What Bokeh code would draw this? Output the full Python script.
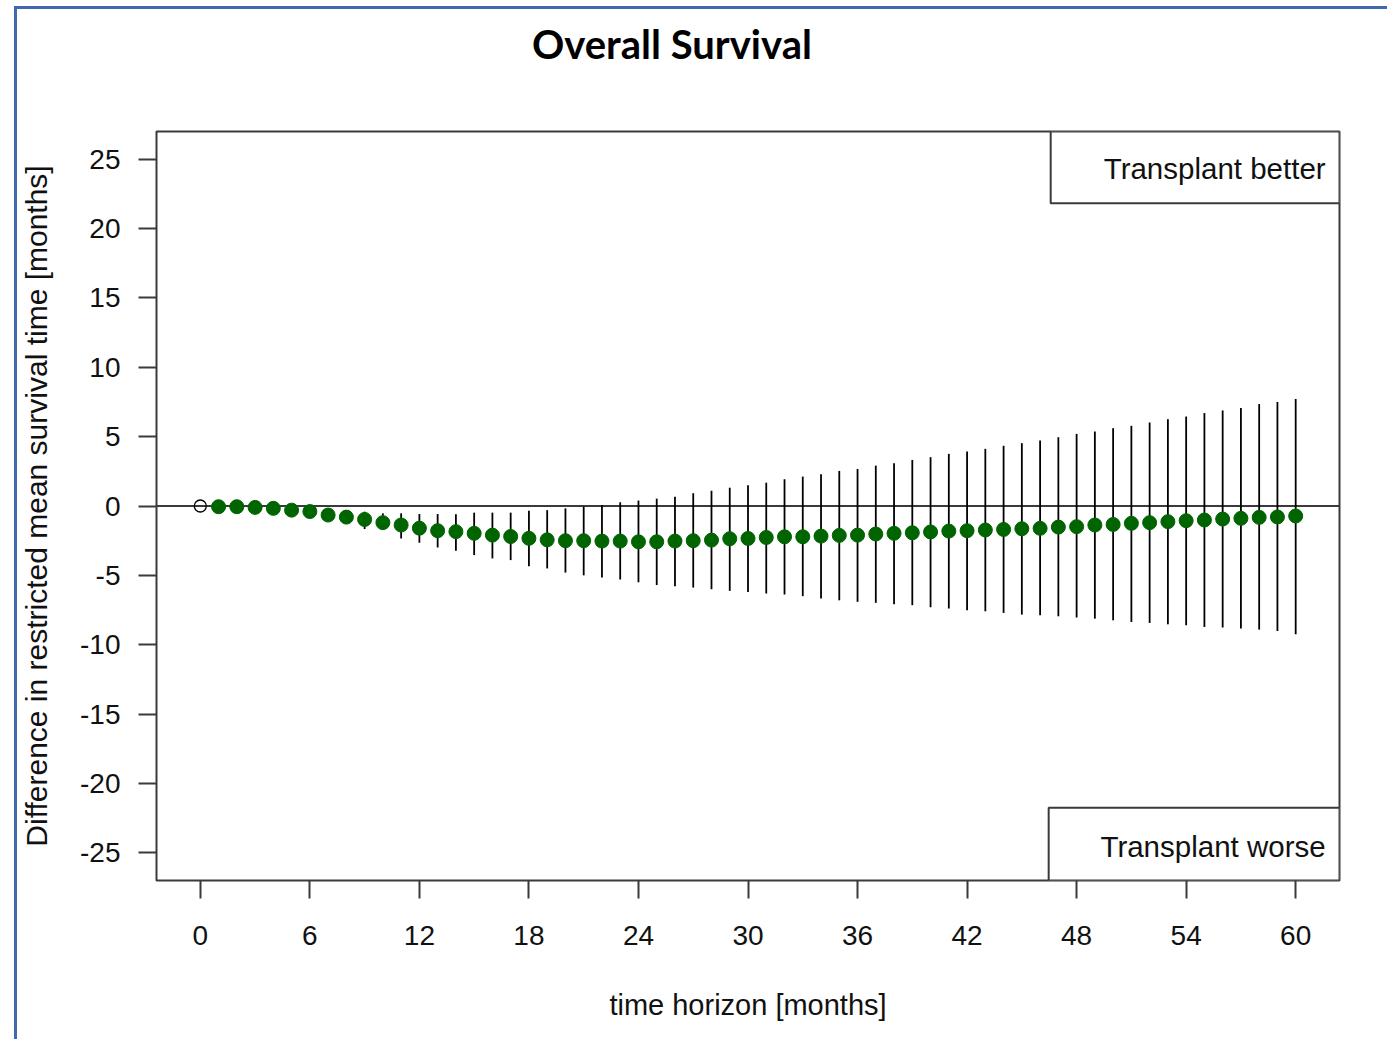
from bokeh.plotting import figure
from bokeh.models import FixedTicker, Range1d, ColumnDataSource, Div
from bokeh.layouts import column
from bokeh.core.properties import value
from bokeh.embed import file_html
from bokeh.resources import INLINE

# ---- data ----
months = list(range(0, 61))
estimate = [0.0, -0.05, -0.05, -0.1, -0.17, -0.3, -0.4, -0.65, -0.8, -0.97,
            -1.2, -1.37, -1.6, -1.78, -1.85, -1.97, -2.1, -2.2, -2.33, -2.44,
            -2.5, -2.5, -2.53, -2.53, -2.58, -2.58, -2.53, -2.5, -2.46, -2.36,
            -2.34, -2.27, -2.22, -2.22, -2.17, -2.12, -2.1, -2.02, -1.97, -1.93,
            -1.87, -1.81, -1.78, -1.73, -1.69, -1.64, -1.61, -1.52, -1.49, -1.37,
            -1.33, -1.25, -1.2, -1.13, -1.06, -1.01, -0.94, -0.89, -0.82, -0.79,
            -0.72]
upper = [0.0, 0.05, 0.1, 0.1, 0.08, 0.0, -0.05, -0.24, -0.29, -0.41,
         -0.53, -0.53, -0.58, -0.58, -0.6, -0.48, -0.48, -0.48, -0.34, -0.3,
         -0.17, -0.05, 0.07, 0.27, 0.39, 0.53, 0.67, 0.92, 1.1, 1.32,
         1.49, 1.68, 1.93, 2.12, 2.29, 2.53, 2.67, 2.91, 3.08, 3.32,
         3.52, 3.76, 3.93, 4.12, 4.34, 4.53, 4.72, 4.96, 5.2, 5.37,
         5.61, 5.78, 6.02, 6.26, 6.45, 6.7, 6.89, 7.06, 7.35, 7.49,
         7.71]
lower = [0.0, -0.15, -0.2, -0.3, -0.42, -0.6, -0.75, -1.13, -1.3, -1.66,
         -1.73, -2.34, -2.65, -2.99, -3.23, -3.54, -3.78, -3.9, -4.34, -4.5,
         -4.8, -5.0, -5.15, -5.3, -5.5, -5.7, -5.78, -5.88, -6.0, -6.12,
         -6.2, -6.31, -6.38, -6.5, -6.67, -6.8, -6.91, -6.98, -7.08, -7.15,
         -7.3, -7.39, -7.51, -7.59, -7.71, -7.83, -7.88, -7.95, -8.04, -8.12,
         -8.24, -8.36, -8.43, -8.53, -8.6, -8.72, -8.76, -8.84, -8.91, -9.01,
         -9.25]
x_ticks = [0, 6, 12, 18, 24, 30, 36, 42, 48, 54, 60]
y_ticks = [-25, -20, -15, -10, -5, 0, 5, 10, 15, 20, 25]
title_text = "Overall Survival"
x_label = "time horizon [months]"
y_label = "Difference in restricted mean survival time [months]"
legend_top = "Transplant better"
legend_bottom = "Transplant worse"

FONT = "Liberation Sans"
TXT = "#111111"

x0, x1 = -2.4, 62.4
y0, y1 = -27.0, 27.0

TITLE_H = 60

title_div = Div(
    text=('<div style="position:absolute; left:515px; top:11px; white-space:nowrap; '
          'font-family:Lato; font-weight:bold; font-size:40px; line-height:48px; '
          'color:black;">' + title_text + '</div>'),
    width=1370, height=TITLE_H, margin=0)

p = figure(width=1370, height=1030 - TITLE_H, output_backend="svg",
           toolbar_location=None,
           x_range=Range1d(x0, x1), y_range=Range1d(y0, y1),
           min_border_left=139, min_border_top=122 - TITLE_H, min_border_right=48,
           min_border_bottom=159, margin=0)
p.background_fill_color = "white"
p.border_fill_color = "white"
p.outline_line_color = "#3a3a3a"
p.outline_line_width = 2
p.xgrid.visible = False
p.ygrid.visible = False

for ax in (p.xaxis[0], p.yaxis[0]):
    ax.axis_line_color = None
    ax.major_tick_out = 18
    ax.major_tick_in = 0
    ax.minor_tick_line_color = None
    ax.major_tick_line_color = "#3a3a3a"
    ax.major_tick_line_width = 2
    ax.major_label_text_font = FONT
    ax.major_label_text_font_size = "28px"
    ax.major_label_text_color = TXT
    ax.axis_label_text_font = FONT
    ax.axis_label_text_font_style = "normal"
    ax.axis_label_text_color = TXT

p.xaxis.axis_label_text_font_size = "29px"
p.yaxis.axis_label_text_font_size = "30px"
p.xaxis.ticker = FixedTicker(ticks=x_ticks)
p.yaxis.ticker = FixedTicker(ticks=y_ticks)
p.xaxis.major_label_overrides = {t: str(t) for t in x_ticks}
p.yaxis.major_label_overrides = {t: str(t) for t in y_ticks}
p.xaxis.major_label_standoff = 27
p.yaxis.major_label_standoff = 18
p.xaxis.axis_label = x_label
p.yaxis.axis_label = y_label
p.xaxis.axis_label_standoff = 41
p.yaxis.axis_label_standoff = 24

# zero line
p.line(x=[x0, x1], y=[0, 0], line_color="#3a3a3a", line_width=2)

src = ColumnDataSource(dict(m=months[1:], est=estimate[1:], lo=lower[1:], hi=upper[1:]))
p.segment(x0="m", y0="lo", x1="m", y1="hi", source=src, line_color="black", line_width=1.8)
p.scatter(x="m", y="est", source=src, size=14, fill_color="#006400",
          line_color="#006400", line_width=1)
p.scatter(x=[months[0]], y=[estimate[0]], size=12, fill_color=None,
          line_color="black", line_width=1.3)

# legend-like boxes
p.quad(left=[46.58], right=[x1], top=[y1], bottom=[21.82], fill_color="white",
       line_color="#3a3a3a", line_width=2)
p.quad(left=[46.47], right=[x1], top=[-21.75], bottom=[y0], fill_color="white",
       line_color="#3a3a3a", line_width=2)
p.text(x=[61.64], y=[24.35], text=[legend_top], text_align="right",
       text_baseline="middle", text_font=value(FONT), text_font_size="29.5px",
       text_color=TXT)
p.text(x=[61.64], y=[-24.57], text=[legend_bottom], text_align="right",
       text_baseline="middle", text_font=value(FONT), text_font_size="29.5px",
       text_color=TXT)

layout = column(title_div, p, spacing=0)
layout.styles = {"border-left": "3px solid #4068ad", "border-top": "3px solid #4068ad",
                 "margin-left": "14px", "margin-top": "6px", "background": "white"}

open("out.html", "w").write(file_html(layout, INLINE))
